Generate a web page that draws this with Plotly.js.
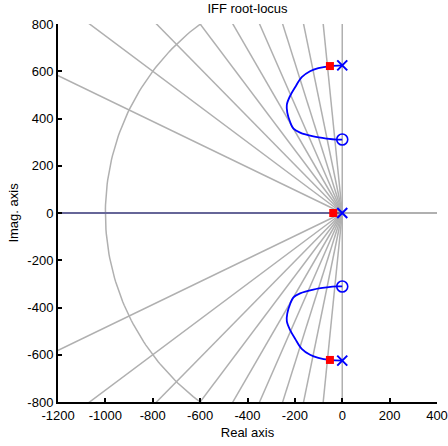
<!DOCTYPE html>
<html>
<head>
<meta charset="utf-8">
<script src="https://cdn.plot.ly/plotly-3.0.1.min.js"></script>
<style>html,body{margin:0;padding:0;background:#fff;}#chart{width:448px;height:446px;}</style>
</head>
<body>
<div id="chart"></div>
<script>
// ---- data ----
const dampingRatios = [0, 0.1, 0.2, 0.3, 0.4, 0.5, 0.6, 0.7, 0.8, 0.9, 1.0];
const naturalFreqs = [1000];

const upperBranchX = [0, -51, -101, -136, -171, -199, -220, -234, -232, -220, -206, -178, -122, -65, -23, 0];
const upperBranchY = [625, 622, 613, 600, 575, 532, 496, 458, 425, 385, 357, 340, 324, 315, 311, 311];
const lowerBranchX = [0, -51, -101, -136, -171, -199, -220, -234, -232, -220, -206, -178, -122, -65, -23, 0];
const lowerBranchY = [-625, -622, -613, -600, -575, -532, -496, -458, -425, -385, -357, -340, -324, -315, -311, -311];
const realBranchX = [0, -3000];
const realBranchY = [0, 0];

const polesX = [0, 0, 0];
const polesY = [625, 0, -625];
const zerosX = [0, 0];
const zerosY = [311, -311];
const closedLoopX = [-52, -38, -52];
const closedLoopY = [622, 0, -622];

const xTickVals = [-1200, -1000, -800, -600, -400, -200, 0, 200, 400];
const xTickText = ['-1200', '-1000', '-800', '-600', '-400', '-200', '0', '200', '400'];
const yTickVals = [-800, -600, -400, -200, 0, 200, 400, 600, 800];
const yTickText = ['-800', '-600', '-400', '-200', '0', '200', '400', '600', '800'];

// ---- grid (damping lines and wn circles) ----
const R = 4000;
const gx = [], gy = [];
dampingRatios.forEach(z => {
  const w = Math.sqrt(1 - z * z);
  gx.push(0, -R * z, null, 0, -R * z, null);
  gy.push(0, R * w, null, 0, -R * w, null);
});
naturalFreqs.forEach(wn => {
  for (let k = 0; k <= 180; k++) {
    const a = Math.PI / 2 + Math.PI * k / 180;
    gx.push(wn * Math.cos(a));
    gy.push(wn * Math.sin(a));
  }
  gx.push(null); gy.push(null);
});

const grey = '#b0b0b0';
const blue = '#0000ff';

const traces = [
  {x: gx, y: gy, mode: 'lines', line: {color: grey, width: 1.5}, hoverinfo: 'skip'},
  {x: realBranchX, y: realBranchY, mode: 'lines', line: {color: '#1c1c80', width: 1.2}},
  {x: upperBranchX, y: upperBranchY, mode: 'lines', line: {color: blue, width: 1.8, shape: 'spline'}},
  {x: lowerBranchX, y: lowerBranchY, mode: 'lines', line: {color: blue, width: 1.8, shape: 'spline'}},
  {x: closedLoopX, y: closedLoopY, mode: 'markers', marker: {symbol: 'square', size: 8, color: '#ff0000'}},
  {x: polesX, y: polesY, mode: 'markers', marker: {symbol: 'x-thin', size: 10, line: {color: blue, width: 2}, color: blue}},
  {x: zerosX, y: zerosY, mode: 'markers', marker: {symbol: 'circle-open', size: 11, line: {color: blue, width: 1.6}, color: blue}}
];

const font = {family: 'Liberation Sans, Arial, sans-serif', size: 13, color: '#000'};

const layout = {
  width: 448, height: 446,
  margin: {l: 58, r: 11, t: 24, b: 44},
  paper_bgcolor: '#fff', plot_bgcolor: '#fff',
  showlegend: false,
  font: font,
  title: {text: 'IFF root-locus', font: font, x: 0.5, xref: 'paper', y: 0.982, yref: 'container', yanchor: 'middle'},
  xaxis: {
    range: [-1200, 400], tickvals: xTickVals, ticktext: xTickText,
    showgrid: false, zeroline: false, showline: true, linecolor: '#000', linewidth: 2,
    ticks: 'inside', ticklen: 4, tickwidth: 2, tickcolor: '#000', mirror: false,
    title: {text: 'Real axis', font: font, standoff: 6}
  },
  yaxis: {
    range: [-800, 800], tickvals: yTickVals, ticktext: yTickText,
    showgrid: false, zeroline: true, zerolinecolor: grey, zerolinewidth: 1.5,
    showline: true, linecolor: '#000', linewidth: 2,
    ticks: 'inside', ticklen: 4, tickwidth: 2, tickcolor: '#000', mirror: false,
    title: {text: 'Imag. axis', font: font, standoff: 6}
  }
};

Plotly.newPlot('chart', traces, layout, {displayModeBar: false, staticPlot: true});
</script>
</body>
</html>
